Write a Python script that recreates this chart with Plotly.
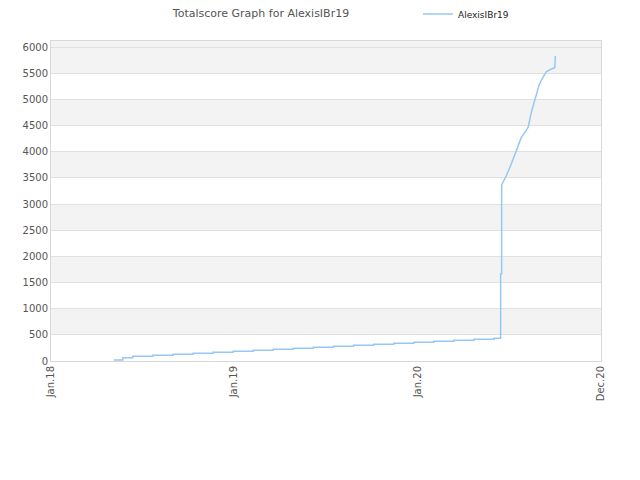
import plotly.graph_objects as go

# Step part (cumulative totalscore)
step_dates = ["2018-05-06", "2018-05-24",
              "2018-06-13", "2018-07-23", "2018-09-01", "2018-10-11", "2018-11-20",
              "2018-12-30", "2019-02-08", "2019-03-20", "2019-04-29", "2019-06-08",
              "2019-07-18", "2019-08-27", "2019-10-06", "2019-11-15", "2019-12-25",
              "2020-02-03", "2020-03-14", "2020-04-23", "2020-06-02",
              "2020-06-15", "2020-06-17"]
step_values = [20, 64,
               89, 108, 127, 146, 166,
               185, 204, 223, 242, 262,
               281, 300, 319, 338, 358,
               377, 396, 415, 434,
               1669, 3363]

# Fast-rising part
rise_dates = ["2020-06-17", "2020-06-26", "2020-07-06", "2020-07-16", "2020-07-26",
              "2020-08-05", "2020-08-09", "2020-08-15", "2020-08-22", "2020-08-30",
              "2020-09-04", "2020-09-14", "2020-09-24", "2020-10-01", "2020-10-02"]
rise_values = [3363, 3535, 3758, 4013, 4268,
               4408, 4472, 4745, 5000, 5255,
               5363, 5528, 5580, 5605, 5829]

tick_vals = ["2018-01-01", "2019-01-01", "2020-01-01", "2021-01-01"]
tick_text = ["Jan.18", "Jan.19", "Jan.20", "Dec.20"]

y_top = 6115
band_starts = [500, 1500, 2500, 3500, 4500, 5500]

color = "rgb(150,200,245)"

fig = go.Figure()
fig.add_trace(go.Scatter(x=step_dates, y=step_values, mode="lines", name="AlexisIBr19",
                         line=dict(color=color, width=1.5, shape="hv")))
fig.add_trace(go.Scatter(x=rise_dates, y=rise_values, mode="lines", name="AlexisIBr19",
                         showlegend=False,
                         line=dict(color=color, width=1.5, shape="linear")))

shapes = []
for b in band_starts:
    top = y_top if b == 5500 else b + 500
    shapes.append(dict(type="rect", xref="paper", yref="y", x0=0, x1=1, y0=b, y1=top,
                       fillcolor="#f3f3f3", line=dict(width=0), layer="below"))

fig.update_layout(
    width=640, height=480,
    margin=dict(l=43, r=47, t=33, b=127, autoexpand=False),
    paper_bgcolor="white", plot_bgcolor="white",
    title=dict(text="Totalscore Graph for AlexisIBr19", x=253/640, xanchor="center",
               y=1 - 5/480, yanchor="middle",
               font=dict(family="DejaVu Sans", size=11, color="#555555")),
    showlegend=True,
    legend=dict(x=410/640, xanchor="left", xref="container",
                y=1.084, yanchor="middle", yref="paper",
                font=dict(family="DejaVu Sans", size=9, color="#222222"),
                bgcolor="rgba(0,0,0,0)", itemwidth=30),
    shapes=shapes,
    font=dict(family="DejaVu Sans", size=10, color="#555555"),
)
fig.update_xaxes(type="date", range=["2018-01-01", "2021-01-01"],
                 tickvals=tick_vals, ticktext=tick_text, tickangle=-90,
                 showgrid=False, showline=True, linecolor="#d8d8d8", mirror=True,
                 ticks="", zeroline=False, automargin=False,
                 tickfont=dict(family="DejaVu Sans", size=10, color="#555555"))
fig.update_yaxes(range=[0, y_top], tickvals=list(range(0, 6001, 500)),
                 showgrid=True, gridcolor="#e0e0e0", gridwidth=1,
                 showline=True, linecolor="#d8d8d8", mirror=True,
                 ticks="", zeroline=False, automargin=False,
                 tickfont=dict(family="DejaVu Sans", size=10, color="#555555"))

fig.write_html("out.html")
